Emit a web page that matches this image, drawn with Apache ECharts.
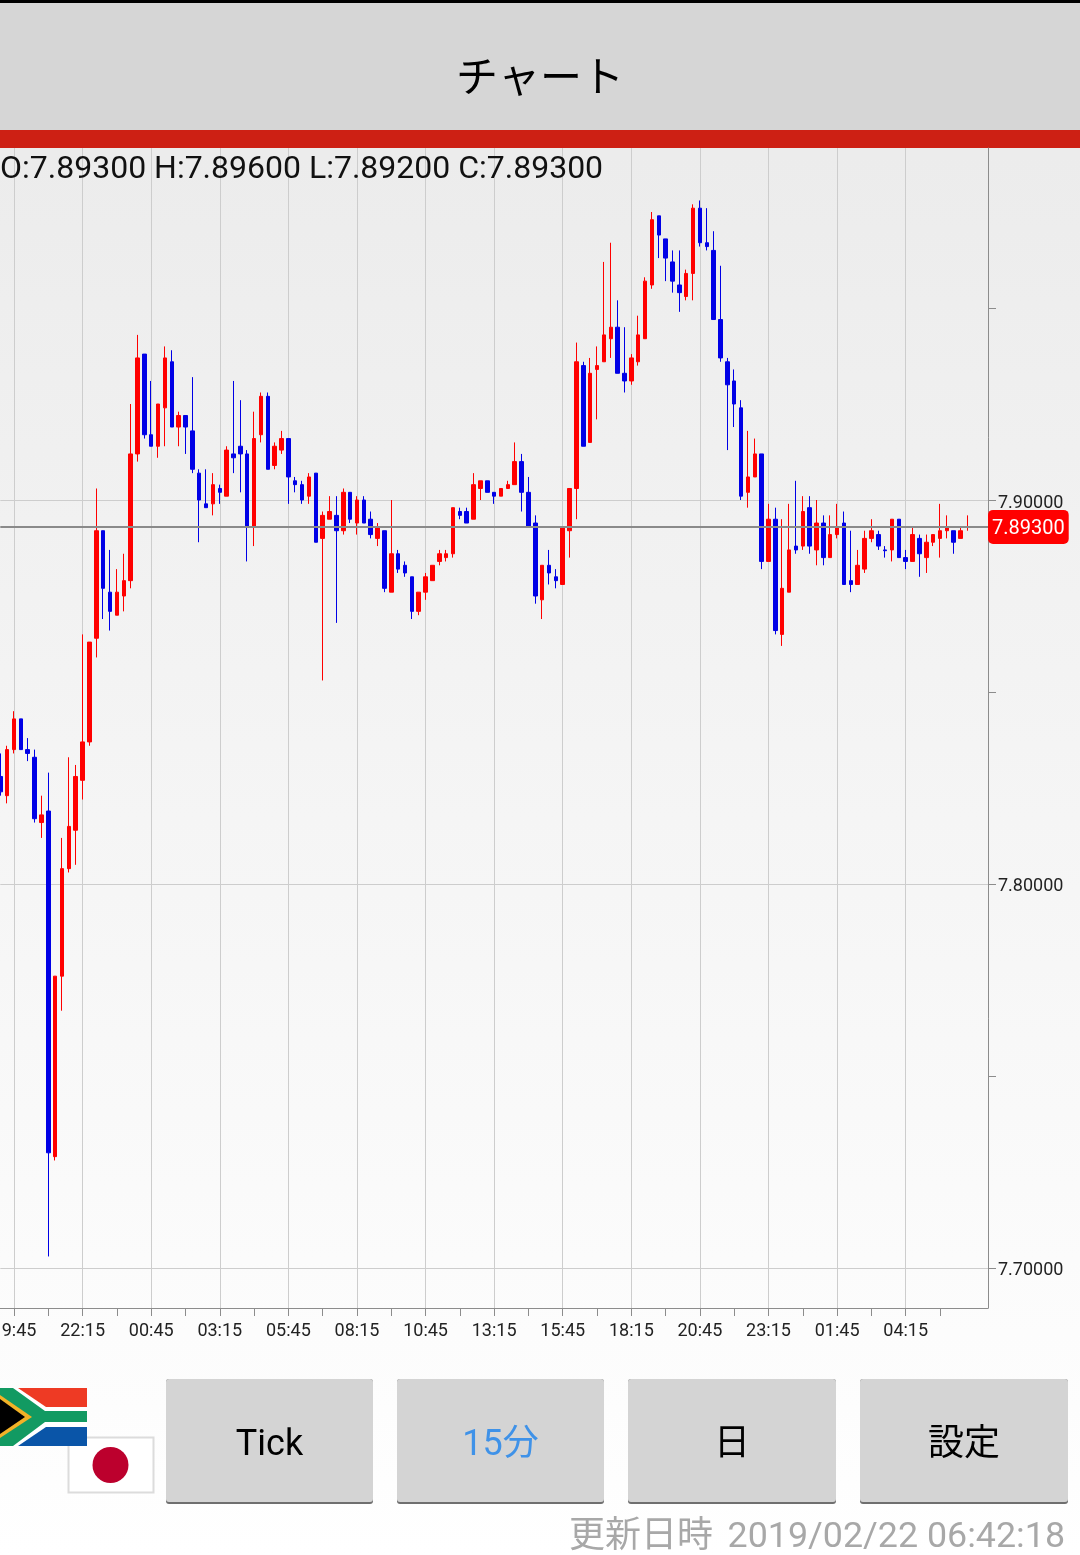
<!DOCTYPE html>
<html>
<head>
<meta charset="utf-8">
<script src="https://cdn.jsdelivr.net/npm/echarts@6/dist/echarts.min.js"></script>
<style>
  html, body { margin: 0; padding: 0; background: #fff; }
  #chart { width: 1080px; height: 1555px; }
</style>
</head>
<body>
<div id="chart"></div>
<script>
// 15分足 ZAR/JPY 19:15から
const opens = [
  7.828,7.823,7.835,7.843,7.835,7.833,7.816,7.819,7.729,7.776,
  7.804,7.814,7.827,7.837,7.864,7.892,7.876,7.870,7.875,7.879,
  7.912,7.938,7.917,7.914,7.924,7.936,7.919,7.922,7.918,7.907,
  7.899,7.899,7.903,7.901,7.912,7.914,7.912,7.893,7.917,7.927,
  7.909,7.913,7.916,7.905,7.904,7.901,7.907,7.890,7.895,7.896,
  7.892,7.902,7.894,7.900,7.895,7.890,7.892,7.876,7.886,7.883,
  7.880,7.871,7.876,7.879,7.884,7.885,7.886,7.897,7.897,7.895,
  7.903,7.905,7.902,7.901,7.903,7.904,7.910,7.902,7.894,7.874,
  7.883,7.880,7.878,7.892,7.903,7.935,7.915,7.934,7.936,7.942,
  7.945,7.933,7.931,7.936,7.942,7.956,7.974,7.968,7.962,7.956,
  7.953,7.959,7.976,7.967,7.965,7.947,7.936,7.931,7.924,7.902,
  7.906,7.912,7.884,7.895,7.865,7.876,7.888,7.888,7.898,7.887,
  7.894,7.885,7.891,7.894,7.879,7.878,7.882,7.890,7.891,7.887,
  7.887,7.895,7.885,7.884,7.890,7.885,7.889,7.890,7.892,7.892,7.890,7.893
]
const closes = [
  7.824,7.835,7.843,7.835,7.834,7.817,7.818,7.730,7.776,7.804,
  7.815,7.828,7.837,7.863,7.892,7.877,7.871,7.876,7.879,7.912,
  7.937,7.917,7.914,7.925,7.937,7.919,7.922,7.919,7.908,7.900,
  7.898,7.904,7.902,7.913,7.911,7.912,7.893,7.916,7.927,7.908,
  7.914,7.916,7.906,7.904,7.900,7.906,7.889,7.896,7.897,7.892,
  7.902,7.895,7.900,7.894,7.891,7.893,7.877,7.886,7.882,7.881,
  7.871,7.876,7.880,7.883,7.886,7.886,7.898,7.896,7.894,7.904,
  7.905,7.902,7.901,7.903,7.904,7.910,7.902,7.893,7.875,7.883,
  7.881,7.879,7.893,7.903,7.936,7.914,7.933,7.935,7.943,7.945,
  7.933,7.931,7.937,7.943,7.957,7.973,7.969,7.963,7.957,7.954,
  7.959,7.976,7.967,7.966,7.947,7.937,7.930,7.925,7.901,7.906,
  7.912,7.884,7.895,7.866,7.877,7.887,7.887,7.897,7.888,7.894,
  7.885,7.891,7.893,7.878,7.878,7.883,7.890,7.892,7.888,7.8868,
  7.895,7.885,7.884,7.891,7.886,7.889,7.891,7.892,7.893,7.889,7.892,7.893
]
const lows = [
  7.823,7.821,7.834,7.835,7.832,7.816,7.812,7.703,7.728,7.767,
  7.803,7.805,7.822,7.836,7.859,7.869,7.866,7.870,7.871,7.877,
  7.910,7.916,7.914,7.911,7.914,7.919,7.914,7.912,7.907,7.889,
  7.898,7.896,7.899,7.901,7.907,7.902,7.884,7.888,7.915,7.908,
  7.908,7.912,7.899,7.902,7.899,7.899,7.889,7.853,7.895,7.868,
  7.891,7.894,7.891,7.894,7.890,7.888,7.876,7.876,7.881,7.880,
  7.869,7.870,7.874,7.879,7.883,7.884,7.885,7.895,7.894,7.895,
  7.900,7.902,7.899,7.901,7.903,7.904,7.897,7.893,7.873,7.869,
  7.878,7.877,7.878,7.885,7.895,7.914,7.915,7.921,7.936,7.937,
  7.933,7.928,7.930,7.935,7.942,7.955,7.963,7.957,7.954,7.949,
  7.952,7.952,7.966,7.965,7.947,7.936,7.913,7.919,7.900,7.898,
  7.906,7.882,7.884,7.865,7.862,7.876,7.886,7.887,7.886,7.883,
  7.883,7.885,7.890,7.878,7.876,7.878,7.881,7.889,7.887,7.885,
  7.884,7.885,7.882,7.884,7.880,7.881,7.888,7.885,7.890,7.886,7.890,7.892
]
const highs = [
  7.834,7.836,7.845,7.843,7.838,7.835,7.823,7.829,7.776,7.812,
  7.833,7.831,7.865,7.863,7.903,7.892,7.887,7.882,7.886,7.925,
  7.943,7.938,7.931,7.925,7.940,7.939,7.923,7.922,7.932,7.908,
  7.908,7.907,7.904,7.914,7.931,7.926,7.913,7.923,7.928,7.928,
  7.915,7.918,7.916,7.906,7.905,7.907,7.907,7.897,7.901,7.901,
  7.903,7.902,7.901,7.901,7.897,7.894,7.892,7.900,7.887,7.884,
  7.880,7.876,7.881,7.883,7.887,7.887,7.898,7.898,7.898,7.907,
  7.905,7.905,7.902,7.903,7.905,7.915,7.912,7.906,7.896,7.883,
  7.887,7.882,7.893,7.903,7.941,7.936,7.937,7.940,7.962,7.967,
  7.952,7.945,7.938,7.948,7.958,7.975,7.974,7.968,7.965,7.965,
  7.960,7.977,7.978,7.976,7.970,7.961,7.937,7.934,7.926,7.918,
  7.916,7.912,7.899,7.898,7.895,7.899,7.905,7.901,7.901,7.900,
  7.896,7.896,7.899,7.897,7.892,7.887,7.892,7.895,7.892,7.888,
  7.895,7.895,7.887,7.893,7.891,7.891,7.891,7.899,7.896,7.892,7.893,7.896
]
const tickLabels = ['19:45','22:15','00:45','03:15','05:45','08:15','10:45','13:15','15:45','18:15','20:45','23:15','01:45','04:15']
const priceLabels = [7.7, 7.8, 7.9]
const lastPrice = 7.893
const buttons = ['Tick', '15分', '日', '設定']
const ohlcText = 'O:7.89300 H:7.89600 L:7.89200 C:7.89300'
const updateLabel = '更新日時'
const updateTime = '2019/02/22 06:42:18'

// 軸は右端の余白ぶん3本多い
const slotCount = opens.length + 3
const firstTick = 2
const categories = []
for (let i = 0; i < slotCount; i++) {
    const n = (i - firstTick) / 10
    categories.push(Number.isInteger(n) && tickLabels[n] ? tickLabels[n] : '')
}
const candles = opens.map((o, i) => [o, closes[i], lows[i], highs[i]])

const font = 'Roboto, "Noto Sans CJK JP", sans-serif'
const isLabelSlot = i => i >= firstTick && (i - firstTick) % 10 === 0 && i < opens.length
const isTickSlot = i => i >= firstTick && (i - firstTick) % 5 === 0 && i < opens.length

function buttonGraphics () {
    const lefts = [166, 397, 628, 860]
    const widths = [207, 207, 208, 208]
    const out = []
    buttons.forEach((label, i) => {
        out.push({
            type: 'rect',
            shape: { x: lefts[i], y: 1379, width: widths[i], height: 125, r: 3 },
            style: { fill: '#6f6f6f' }
        })
        out.push({
            type: 'rect',
            shape: { x: lefts[i], y: 1379, width: widths[i], height: 123, r: 3 },
            style: { fill: '#d4d4d4' }
        })
        out.push({
            type: 'text',
            x: lefts[i] + widths[i] / 2,
            y: 1446,
            style: {
                text: label,
                fill: i === 1 ? '#3f92e8' : '#000',
                font: '36px ' + font,
                textAlign: 'center',
                textVerticalAlign: 'middle'
            }
        })
    })
    return out
}

function flagGraphics () {
    const poly = (points, fill) => ({ type: 'polygon', shape: { points: points }, style: { fill: fill } })
    return [
        // 日本
        { type: 'rect', shape: { x: 68.5, y: 1437.5, width: 85, height: 55 }, style: { fill: '#fff', stroke: '#dcdcdc', lineWidth: 2 } },
        { type: 'circle', shape: { cx: 110.5, cy: 1465, r: 18 }, style: { fill: '#bc002d' } },
        // 南アフリカ
        { type: 'rect', shape: { x: 0, y: 1388, width: 87, height: 58 }, style: { fill: '#fff' } },
        poly([[18, 1388], [87, 1388], [87, 1407], [46, 1407]], '#ee3a24'),
        poly([[46, 1427], [87, 1427], [87, 1446], [18, 1446]], '#0a55a8'),
        poly([[0, 1388], [13, 1388], [45, 1411], [87, 1411], [87, 1422], [45, 1422], [13, 1446], [0, 1446]], '#129a62'),
        poly([[0, 1395], [32, 1417], [0, 1438]], '#f2b227'),
        poly([[0, 1399], [25, 1417], [0, 1434]], '#000')
    ]
}

const chart = echarts.init(document.getElementById('chart'), null, { renderer: 'canvas' })
chart.setOption({
    animation: false,
    backgroundColor: {
        type: 'linear', x: 0, y: 0, x2: 0, y2: 1,
        colorStops: [
            { offset: 0, color: '#ececec' },
            { offset: 0.1, color: '#ececec' },
            { offset: 1, color: '#ffffff' }
        ]
    },
    grid: { left: 0.3, width: 987.7, top: 148, height: 1160, outerBoundsMode: 'none' },
    xAxis: {
        type: 'category',
        data: categories,
        boundaryGap: false,
        axisLine: { lineStyle: { color: '#8c8c8c', width: 1 } },
        axisTick: { length: 8, interval: i => isTickSlot(i), lineStyle: { color: '#8c8c8c' } },
        axisLabel: { interval: i => isLabelSlot(i), color: '#222', fontSize: 18, fontFamily: font, margin: 14 },
        splitLine: { show: true, interval: i => isLabelSlot(i), lineStyle: { color: '#cdcdcd', width: 1 } }
    },
    yAxis: {
        type: 'value',
        position: 'right',
        scale: true,
        min: 7.68958,
        max: 7.99167,
        splitNumber: 3,
        minInterval: 0.1,
        maxInterval: 0.1,
        axisLine: { show: true, lineStyle: { color: '#8c8c8c', width: 1 } },
        axisTick: { show: true, length: 8, customValues: priceLabels, lineStyle: { color: '#8c8c8c' } },
        minorTick: { show: true, splitNumber: 2, length: 8, lineStyle: { color: '#8c8c8c' } },
        axisLabel: {
            customValues: priceLabels,
            formatter: v => v.toFixed(5),
            color: '#222',
            fontSize: 18,
            fontFamily: font,
            margin: 10,
            verticalAlign: 'top',
            lineHeight: 6
        },
        splitLine: { show: true, showMinLine: true, showMaxLine: true, lineStyle: { color: '#cdcdcd', width: 1 } }
    },
    series: [{
        type: 'candlestick',
        data: candles,
        barWidth: 4,
        itemStyle: {
            color: '#ff0000',
            color0: '#0000e6',
            borderColor: '#ff0000',
            borderColor0: '#0000e6',
            borderColorDoji: '#ff0000',
            borderWidth: 1
        },
        markLine: {
            silent: true,
            symbol: 'none',
            animation: false,
            data: [[{ coord: [0, lastPrice] }, { coord: [slotCount - 1, lastPrice] }]],
            lineStyle: { color: '#8a8a8a', width: 2, type: 'solid' },
            label: {
                position: 'end',
                distance: 0,
                formatter: () => lastPrice.toFixed(5),
                color: '#fff',
                fontSize: 20,
                fontFamily: font,
                backgroundColor: '#ff0000',
                borderRadius: 5,
                verticalAlign: 'top',
                offset: [0, -17],
                padding: [9, 4, 5, 4]
            }
        }
    }],
    graphic: [
        { type: 'rect', shape: { x: 0, y: 0, width: 1080, height: 3 }, style: { fill: '#000' } },
        { type: 'rect', shape: { x: 0, y: 3, width: 1080, height: 127 }, style: { fill: '#d6d6d6' } },
        { type: 'rect', shape: { x: 0, y: 130, width: 1080, height: 18 }, style: { fill: '#cd2014' } },
        {
            type: 'text', x: 540, y: 76,
            style: { text: 'チャート', fill: '#000', font: '42px "Noto Sans CJK JP", sans-serif', textAlign: 'center', textVerticalAlign: 'middle' }
        },
        {
            type: 'text', x: 0, y: 170, z: 10,
            style: { text: ohlcText, fill: '#111', font: '32px ' + font, textAlign: 'left', textVerticalAlign: 'middle' }
        },
        {
            type: 'text', x: 713, y: 1538,
            style: { text: updateLabel, fill: '#a8a8a8', font: '36px ' + font, textAlign: 'right', textVerticalAlign: 'middle' }
        },
        {
            type: 'text', x: 1065, y: 1538,
            style: { text: updateTime, fill: '#a8a8a8', font: '35.8px ' + font, textAlign: 'right', textVerticalAlign: 'middle' }
        }
    ].concat(buttonGraphics(), flagGraphics())
})
</script>
</body>
</html>
